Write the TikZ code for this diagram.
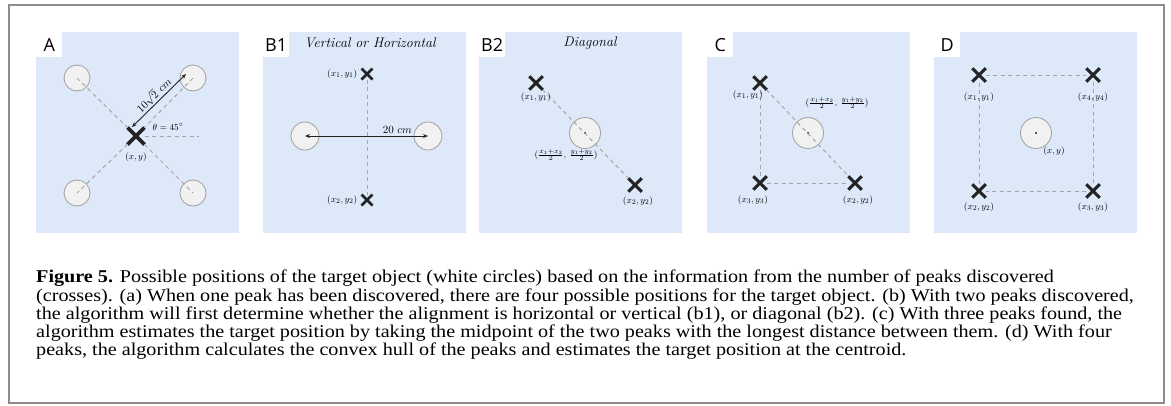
\documentclass[tikz,border=0pt]{standalone}
\usepackage{fontspec}
\usepackage{amsmath}
\usetikzlibrary{positioning, arrows.meta, shapes.misc}
\newfontfamily\capfont[FakeStretch=1.12]{Liberation Serif}
\newfontfamily\tagfont{Open Sans}
\definecolor{panelblue}{HTML}{DDE8F9}
\definecolor{crossink}{HTML}{222222}
\definecolor{dashgray}{HTML}{A6A6A6}
\definecolor{ringgray}{HTML}{A0A0A0}
\definecolor{ringfill}{HTML}{F1F1F1}
\definecolor{framegray}{HTML}{8C8C8C}

\tikzset{
    panel/.style={fill=panelblue},
    paneltag/.style={fill=white, anchor=north west, inner sep=0pt, minimum width=26pt, minimum height=25pt, font=\tagfont\fontsize{18}{18}\selectfont},
    peak/.style={cross out, draw=crossink, line width=3pt, minimum size=13.5pt, inner sep=0pt, outer sep=0pt},
    spot/.style={circle, draw=ringgray, fill=ringfill, line width=0.8pt, inner sep=0pt, minimum size=31pt},
    guide/.style={draw=dashgray, line width=1pt, dash pattern=on 4pt off 3.5pt},
    ptlabel/.style={font=\fontsize{9.5}{10}\selectfont, inner sep=1pt},
    reach/.style={{Stealth[length=5pt,width=4pt]}-{Stealth[length=5pt,width=4pt]}, line width=0.9pt, draw=crossink},
    heading/.style={font=\itshape\fontsize{14}{15}\selectfont},
    hub/.style={circle, fill=black, inner sep=0pt, minimum size=2pt}
}

\begin{document}
\begin{tikzpicture}[x=1pt, y=-1pt]
\useasboundingbox (0,0) rectangle (1171,405);
\draw[framegray, line width=1.2pt] (9,5) rectangle (1164,403);

% panel backgrounds and tags
\foreach \px/\tg in {36/A, 263/B1, 479/B2, 707/C, 934/D} {
    \fill[panel] (\px,32) rectangle ++(203,201);
    \node[paneltag] at (\px,32) {\tg};
}

% A: one peak
\node[spot, minimum size=26pt] (atl) at (77,78) {};
\node[spot, minimum size=26pt] (atr) at (193,78) {};
\node[spot, minimum size=26pt] (abl) at (77,193) {};
\node[spot, minimum size=26pt] (abr) at (193,193) {};
\node[peak, minimum size=17pt, line width=3.6pt] (ax) at (136,136) {};
\coordinate (aref) at (199,136);
\coordinate (alo) at (132,127);
\coordinate (ahi) at (186,74);
\draw[guide] (atl.center) -- (ax) (ax) -- (abr.center);
\draw[guide] (atr.center) -- (ax) (ax) -- (abl.center);
\draw[guide] (ax) -- (aref);
\draw[reach] (alo) -- node[sloped, above, inner sep=1.5pt, font=\fontsize{11}{12}\selectfont] {$10\sqrt{2}\ cm$} (ahi);
\node[ptlabel] at (168,127) {$\theta = 45^\circ$};
\node[ptlabel] at (136,157) {$(x,y)$};

% B1: vertical or horizontal
\node[heading] at (370,43) {Vertical or Horizontal};
\node[spot, minimum size=28pt] (b1l) at (305,136) {};
\node[spot, minimum size=28pt] (b1r) at (428,136) {};
\node[peak, minimum size=11pt, line width=2.8pt] (b1a) at (367,74) {};
\node[peak, minimum size=11pt, line width=2.8pt] (b1b) at (367,200) {};
\draw[guide] (b1a) -- (b1b);
\draw[reach] (b1l.center) -- node[pos=0.75, above, inner sep=2pt, font=\fontsize{10.5}{11}\selectfont] {$20\ cm$} (b1r.center);
\node[ptlabel, left=3pt of b1a] {$(x_1, y_1)$};
\node[ptlabel, left=3pt of b1b] {$(x_2, y_2)$};

% B2: diagonal
\node[heading] at (590,43) {Diagonal};
\node[spot] (b2t) at (585,133) {};
\node[hub] at (b2t.center) {};
\node[peak] (b2a) at (536,83) {};
\node[peak] (b2b) at (635,185) {};
\draw[guide] (b2a) -- (b2b);
\node[ptlabel] at (536,97) {$(x_1, y_1)$};
\node[ptlabel] at (638,201) {$(x_2, y_2)$};
\node[ptlabel] at (566,155) {$(\frac{x_1+x_2}{2},\, \frac{y_1+y_2}{2})$};

% C: three peaks
\node[spot] (ct) at (808,133) {};
\node[hub] at (ct.center) {};
\node[peak] (ca) at (760,83) {};
\node[peak] (cb) at (855,183) {};
\node[peak] (cc) at (760,183) {};
\draw[guide] (ca) -- (cc);
\draw[guide] (cc) -- (cb);
\draw[guide] (ca) -- (cb);
\node[ptlabel] at (748,95) {$(x_1, y_1)$};
\node[ptlabel] at (858,200) {$(x_2, y_2)$};
\node[ptlabel] at (753,200) {$(x_3, y_3)$};
\node[ptlabel] at (837,103) {$(\frac{x_1+x_2}{2},\, \frac{y_1+y_2}{2})$};

% D: four peaks
\node[spot] (dt) at (1036,133) {};
\node[hub] at (dt.center) {};
\node[peak] (da) at (979,75) {};
\node[peak] (db) at (979,191) {};
\node[peak] (dc) at (1093,191) {};
\node[peak] (dd) at (1093,75) {};
\draw[guide] (da) -- (dd);
\draw[guide] (dd) -- (dc);
\draw[guide] (dc) -- (db);
\draw[guide] (db) -- (da);
\node[ptlabel] at (979,97) {$(x_1, y_1)$};
\node[ptlabel] at (979,207) {$(x_2, y_2)$};
\node[ptlabel] at (1093,207) {$(x_3, y_3)$};
\node[ptlabel] at (1093,97) {$(x_4, y_4)$};
\node[ptlabel] at (1054,151) {$(x,y)$};

% caption
\node[anchor=north west, align=left, inner sep=0pt, font=\capfont\fontsize{18}{18.2}\selectfont] (caption) at (36,270) {%
\textbf{Figure 5.} Possible positions of the target object (white circles) based on the information from the number of peaks discovered\\
(crosses). (a) When one peak has been discovered, there are four possible positions for the target object. (b) With two peaks discovered,\\
the algorithm will first determine whether the alignment is horizontal or vertical (b1), or diagonal (b2). (c) With three peaks found, the\\
algorithm estimates the target position by taking the midpoint of the two peaks with the longest distance between them. (d) With four\\
peaks, the algorithm calculates the convex hull of the peaks and estimates the target position at the centroid.};
\end{tikzpicture}
\end{document}
